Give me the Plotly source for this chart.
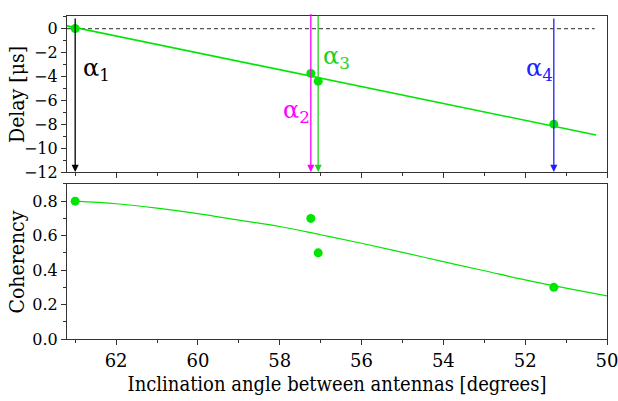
import plotly.graph_objects as go

# ---- data ----
angles = [63.0, 57.24, 57.06, 51.3]
delays = [0.0, -3.75, -4.4, -8.0]
coherency = [0.80, 0.70, 0.50, 0.30]
labels = ["1", "2", "3", "4"]
label_colors = ["#000000", "#ff00ff", "#22d022", "#2020ff"]

delay_fit_x = [63.3, 50.27]
delay_fit_y = [0.3, -8.9]

coh_fit_x = [63, 62, 61, 60, 59, 58, 57, 56, 55, 54, 53, 52, 51, 50]
coh_fit_y = [0.80, 0.785, 0.76, 0.728, 0.69, 0.653, 0.605, 0.556, 0.503, 0.449, 0.396, 0.343, 0.295, 0.25]

zero_x = [63.2, 50.3]
zero_y = [0, 0]

GREEN = "#00e600"
FONT = "DejaVu Serif Condensed, DejaVu Serif"
FONT_TICK = "DejaVu Serif"

fig = go.Figure()

fig.add_trace(go.Scatter(x=zero_x, y=zero_y, mode="lines",
                         line=dict(color="#555555", width=1.2, dash="4px,3px"),
                         xaxis="x", yaxis="y", showlegend=False))
fig.add_trace(go.Scatter(x=delay_fit_x, y=delay_fit_y, mode="lines",
                         line=dict(color=GREEN, width=1.6),
                         xaxis="x", yaxis="y", showlegend=False))
fig.add_trace(go.Scatter(x=angles, y=delays, mode="markers",
                         marker=dict(color=GREEN, size=9),
                         xaxis="x", yaxis="y", showlegend=False, cliponaxis=False))

fig.add_trace(go.Scatter(x=coh_fit_x, y=coh_fit_y, mode="lines", line_shape="spline",
                         line=dict(color=GREEN, width=1.2),
                         xaxis="x2", yaxis="y2", showlegend=False))
fig.add_trace(go.Scatter(x=angles, y=coherency, mode="markers",
                         marker=dict(color=GREEN, size=9),
                         xaxis="x2", yaxis="y2", showlegend=False, cliponaxis=False))

# arrows (tail heights in data units)
arrow_tops = [1.06, 1.42, 1.31, 1.06]
for xa, top, col in zip(angles, arrow_tops, label_colors):
    fig.add_annotation(x=xa, y=-12, ax=xa, ay=top, xref="x", yref="y", axref="x", ayref="y",
                       text=" ", showarrow=True, arrowhead=2, arrowsize=1.1, arrowwidth=1.3,
                       arrowcolor=col, standoff=0, startstandoff=0,
                       font=dict(size=2))

# alpha labels
label_pos = [(62.86, -3.4), (57.98, -6.9), (56.98, -2.4), (52.03, -3.4)]
for (lx, ly), sub, col in zip(label_pos, labels, label_colors):
    fig.add_annotation(x=lx, y=ly, xref="x", yref="y", xanchor="left", yanchor="middle",
                       text="α<sub>" + sub + "</sub>", showarrow=False,
                       font=dict(family=FONT_TICK, size=24, color=col))

# y-axis titles (placed as rotated text)
fig.add_annotation(x=-0.0926, y=0.5, xref="paper", yref="y domain", text="Delay [μs]",
                   textangle=-90, showarrow=False, xanchor="center", yanchor="middle",
                   font=dict(family=FONT, size=21, color="#000"))
fig.add_annotation(x=-0.0926, y=0.5, xref="paper", yref="y2 domain", text="Coherency",
                   textangle=-90, showarrow=False, xanchor="center", yanchor="middle",
                   font=dict(family=FONT, size=21, color="#000"))

axis_common = dict(showline=True, linecolor="#333333", linewidth=1.2, mirror=True,
                   ticks="outside", ticklen=5, tickcolor="#333333", tickwidth=1.2,
                   showgrid=False, zeroline=False, automargin=False,
                   ticklabeloverflow="allow")
xtickfont = dict(family=FONT_TICK, size=18, color="#000")
ytickfont = dict(family=FONT_TICK, size=16, color="#000")

fig.update_layout(
    width=618, height=401,
    margin=dict(l=67, r=11, t=16, b=62),
    plot_bgcolor="white", paper_bgcolor="white",
    font=dict(family=FONT, color="#000"),
    xaxis=dict(range=[63.2, 50], anchor="y", showticklabels=False, dtick=2, tick0=50,
               minor=dict(ticks="outside", ticklen=3, dtick=1, tick0=50, tickcolor="#333333"),
               tickfont=xtickfont, **axis_common),
    yaxis=dict(domain=[0.517, 1], range=[-12, 1.05], dtick=2, tick0=0,
               minor=dict(ticks="outside", ticklen=3, dtick=1, tick0=0, tickcolor="#333333"),
               tickfont=ytickfont, **axis_common),
    xaxis2=dict(range=[63.2, 50], anchor="y2", dtick=2, tick0=50,
                minor=dict(ticks="outside", ticklen=3, dtick=1, tick0=50, tickcolor="#333333"),
                title=dict(text="Inclination angle between antennas [degrees]",
                           font=dict(family=FONT, size=20), standoff=7),
                tickfont=xtickfont, **axis_common),
    yaxis2=dict(domain=[0, 0.48], range=[0, 0.9], dtick=0.2, tick0=0, tickformat=".1f",
                minor=dict(ticks="outside", ticklen=3, dtick=0.1, tick0=0, tickcolor="#333333"),
                tickfont=ytickfont, **axis_common),
)

fig.write_html("out.html")
